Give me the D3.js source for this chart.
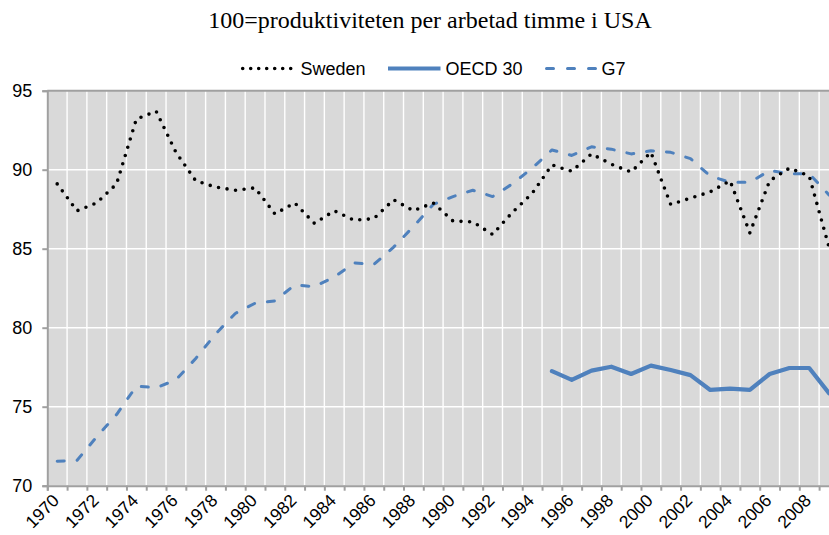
<!DOCTYPE html>
<html>
<head>
<meta charset="utf-8">
<script src="https://cdn.jsdelivr.net/npm/d3@7"></script>
<style>
  html, body { margin: 0; padding: 0; background: #fff; }
  svg { display: block; }
</style>
</head>
<body>
<svg id="chart" width="829" height="535"></svg>
<script>
// ---- data ----
const years = d3.range(1970, 2010);
const sweden = [89.1, 87.4, 87.9, 89.1, 93.2, 93.7, 91.1, 89.3, 88.9, 88.7,
                88.85, 87.2, 87.9, 86.6, 87.4, 86.8, 86.9, 88.1, 87.4, 87.9,
                86.75, 86.7, 85.9, 87.3, 88.5, 90.3, 89.9, 91.0, 90.35, 89.85,
                91.1, 87.8, 88.2, 88.6, 89.3, 86.0, 89.3, 90.1, 89.6, 85.1];
const oecd30 = [null, null, null, null, null, null, null, null, null, null,
                null, null, null, null, null, null, null, null, null, null,
                null, null, null, null, null, 77.25, 76.7, 77.28, 77.53, 77.07,
                77.6, 77.32, 77.0, 76.06, 76.14, 76.06, 77.07, 77.45, 77.45, 75.85];
const g7 = [71.55, 71.6, 73.1, 74.5, 76.3, 76.2, 76.7, 78.05, 79.6, 80.9,
            81.55, 81.7, 82.7, 82.6, 83.2, 84.1, 84.0, 85.1, 86.4, 87.8,
            88.3, 88.7, 88.3, 89.1, 90.1, 91.25, 90.9, 91.45, 91.3, 91.0,
            91.2, 91.1, 90.7, 89.6, 89.2, 89.2, 89.95, 89.75, 89.75, 88.4];
const yTicks = [70, 75, 80, 85, 90, 95];
const xLabelYears = years.filter(v => v % 2 === 0);
const titleText = "100=produktiviteten per arbetad timme i USA";
const seriesNames = ["Sweden", "OECD 30", "G7"];

// ---- layout ----
const pLeft = 47.3, pRight = 838.9, pTop = 90.7, pBottom = 485.7;
const blue = "#4f81bd", axisGray = "#a0a0a0";
const svg = d3.select("#chart");

const x = d3.scaleBand().domain(years).range([pLeft, pRight]).padding(0);
const bw = x.bandwidth();
const cx = yr => x(yr) + bw / 2;
const y = d3.scaleLinear().domain([70, 95]).range([pBottom, pTop]);

// plot background
svg.append("rect").attr("x", pLeft).attr("y", pTop)
  .attr("width", pRight - pLeft).attr("height", pBottom - pTop).attr("fill", "#d9d9d9");

// vertical gridlines at category boundaries
const bounds = years.map(yr => x(yr)).concat([pRight]);
svg.append("g").selectAll("line").data(bounds.slice(1)).join("line")
  .attr("x1", d => d).attr("x2", d => d).attr("y1", pTop).attr("y2", pBottom)
  .attr("stroke", "#fff").attr("stroke-width", 1.4);

// horizontal gridlines
svg.append("g").selectAll("line").data(yTicks.filter(v => v > 70 && v < 95)).join("line")
  .attr("x1", pLeft).attr("x2", pRight).attr("y1", d => y(d)).attr("y2", d => y(d))
  .attr("stroke", "#fff").attr("stroke-width", 1.4);

// top border
svg.append("line").attr("x1", pLeft).attr("x2", pRight).attr("y1", pTop).attr("y2", pTop)
  .attr("stroke", axisGray).attr("stroke-width", 2);

// y axis
const yAxis = svg.append("g").attr("transform", `translate(${pLeft},0)`)
  .call(d3.axisLeft(y).tickValues(yTicks).tickSize(5).tickPadding(10).tickFormat(d3.format("d")));
yAxis.select(".domain").attr("stroke", axisGray).attr("stroke-width", 2);
yAxis.selectAll(".tick line").attr("stroke", axisGray).attr("stroke-width", 2);
yAxis.selectAll(".tick text").attr("font-family", "Liberation Sans, Arial, sans-serif")
  .attr("font-size", 18).attr("fill", "#000");

// x axis: tick marks at category boundaries
const xb = d3.scaleLinear().domain([1969.5, 2009.5]).range([pLeft, pRight]);
const xAxisTicks = svg.append("g").attr("transform", `translate(0,${pBottom})`)
  .call(d3.axisBottom(xb).tickValues(years.map(v => v - 0.5).concat([2009.5])).tickSize(5).tickFormat(""));
xAxisTicks.select(".domain").attr("stroke", axisGray).attr("stroke-width", 2);
xAxisTicks.selectAll(".tick line").attr("stroke", axisGray).attr("stroke-width", 2);

// x axis labels
const xAxisLabels = svg.append("g").attr("transform", `translate(0,${pBottom})`)
  .call(d3.axisBottom(x).tickValues(xLabelYears).tickSize(0).tickFormat(d3.format("d")));
xAxisLabels.select(".domain").remove();
xAxisLabels.selectAll(".tick text")
  .attr("font-family", "Liberation Sans, Arial, sans-serif").attr("font-size", 17.5).attr("fill", "#000")
  .attr("text-anchor", "end").attr("y", 0).attr("dy", 0)
  .attr("transform", "translate(3,16) rotate(-45)");

// lines
const lineGen = vals => d3.line()
  .defined((d, i) => vals[i] != null)
  .x((d, i) => cx(years[i]))
  .y((d, i) => y(vals[i]))(vals);

svg.append("path").attr("d", lineGen(g7)).attr("fill", "none")
  .attr("stroke", blue).attr("stroke-width", 3).attr("stroke-dasharray", "7 13")
  .attr("stroke-linecap", "round").attr("stroke-linejoin", "round");
svg.append("path").attr("d", lineGen(oecd30)).attr("fill", "none")
  .attr("stroke", blue).attr("stroke-width", 4.2).attr("stroke-linejoin", "round").attr("stroke-linecap", "round");
svg.append("path").attr("d", lineGen(sweden)).attr("fill", "none")
  .attr("stroke", "#000").attr("stroke-width", 3.6).attr("stroke-dasharray", "0 8.6")
  .attr("stroke-linecap", "round").attr("stroke-linejoin", "round");

// title
svg.append("text").attr("x", 430).attr("y", 28).attr("text-anchor", "middle")
  .attr("font-family", "Liberation Serif, Times New Roman, serif").attr("font-size", 24)
  .attr("fill", "#000").text(titleText);

// legend
const legY = 68.5;
const leg = svg.append("g").attr("font-family", "Liberation Sans, Arial, sans-serif").attr("font-size", 18);
leg.append("line").attr("x1", 242.7).attr("x2", 290.7).attr("y1", legY).attr("y2", legY)
  .attr("stroke", "#000").attr("stroke-width", 3.6).attr("stroke-dasharray", "0 8").attr("stroke-linecap", "round");
leg.append("text").attr("x", 300.5).attr("y", legY).attr("dy", "0.35em").text(seriesNames[0]);
leg.append("line").attr("x1", 388).attr("x2", 440.5).attr("y1", legY).attr("y2", legY)
  .attr("stroke", blue).attr("stroke-width", 4.2);
leg.append("text").attr("x", 445.5).attr("y", legY).attr("dy", "0.35em").text(seriesNames[1]);
leg.append("line").attr("x1", 546.5).attr("x2", 596).attr("y1", legY).attr("y2", legY)
  .attr("stroke", blue).attr("stroke-width", 3).attr("stroke-dasharray", "7 14").attr("stroke-linecap", "round");
leg.append("text").attr("x", 601.5).attr("y", legY).attr("dy", "0.35em").text(seriesNames[2]);
</script>
</body>
</html>
